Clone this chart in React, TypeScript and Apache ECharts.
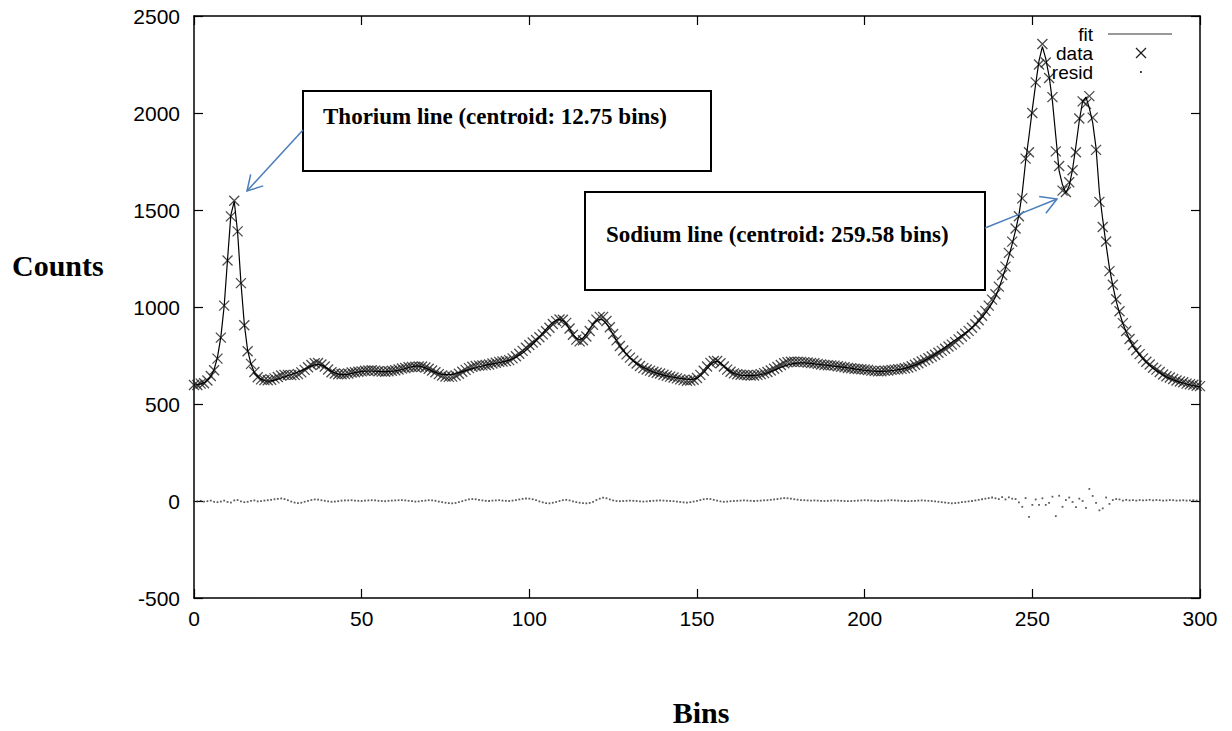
import React, { useEffect, useRef } from "react";
import * as echarts from "echarts";

// Fitted spectrum (counts per bin, bins 0..300)
const fitCounts = [
  598, 600, 604, 610, 622, 642, 678, 740, 845, 1005,
  1245, 1475, 1545, 1385, 1125, 912, 776, 706, 662, 640,
  628, 621, 618, 619, 623, 628, 634, 640, 646, 652,
  658, 665, 672, 680, 688, 696, 702, 704, 700, 692,
  680, 668, 660, 654, 651, 651, 654, 658, 662, 665,
  668, 669, 670, 670, 669, 668, 667, 667, 668, 669,
  671, 674, 678, 683, 688, 692, 695, 695, 692, 686,
  678, 670, 663, 657, 653, 651, 651, 653, 657, 662,
  667, 672, 677, 682, 687, 692, 696, 700, 704, 707,
  710, 713, 717, 721, 726, 733, 741, 751, 763, 777,
  792, 808, 826, 846, 866, 886, 905, 921, 932, 936,
  930, 912, 886, 859, 838, 832, 840, 860, 886, 912,
  930, 937, 932, 914, 888, 858, 828, 800, 776, 755,
  737, 722, 709, 698, 688, 680, 672, 665, 659, 654,
  649, 645, 641, 638, 635, 632, 630, 628, 627, 628,
  633, 645, 662, 682, 702, 716, 720, 712, 697, 680,
  667, 658, 652, 649, 647, 646, 646, 647, 649, 652,
  656, 661, 667, 674, 681, 688, 695, 701, 706, 709,
  711, 712, 712, 711, 709, 707, 705, 703, 701, 699,
  697, 695, 693, 691, 689, 687, 684, 681, 678, 676,
  674, 672, 670, 669, 668, 668, 669, 670, 672, 674,
  677, 680, 684, 689, 695, 701, 708, 716, 725, 735,
  745, 756, 768, 780, 793, 806, 818, 830, 842, 854,
  866, 879, 893, 908, 926, 946, 968, 992, 1020, 1052,
  1095, 1145, 1200, 1260, 1325, 1395, 1475, 1590, 1750, 1880,
  2020, 2150, 2270, 2342, 2280, 2190, 2060, 1880, 1700, 1630,
  1588, 1625, 1710, 1830, 1960, 2060, 2082, 2025, 1950, 1820,
  1590, 1450, 1320, 1200, 1110, 1030, 970, 915, 870, 832,
  800, 775, 752, 732, 714, 698, 684, 672, 661, 650,
  640, 632, 625, 619, 613, 608, 603, 599, 595, 592,
  589,
];

// Residuals (data - fit) per bin
const residuals = [
  0, -2, 1, -3, -1, 2, -4, -6, -3, 2,
  -5, -8, 3, 5, -2, -6, -4, 1, 3, -2,
  -1, 2, 4, 6, 9, 11, 13, 10, 4, -3,
  -8, -11, -9, -4, 1, 5, 8, 7, 4, 1,
  -2, -4, -3, -1, 2, 3, 3, 4, 2, 1,
  0, 2, 3, 4, 3, 1, 0, -1, 1, 2,
  3, 4, 5, 3, 1, -1, -3, -2, 1, 2,
  4, 3, 1, -3, -6, -9, -11, -12, -10, -6,
  -1, 4, 8, 10, 9, 6, 3, 1, 0, 2,
  3, 4, 2, 1, 0, 2, 5, 8, 11, 13,
  12, 9, 4, -2, -7, -11, -12, -9, -5, 0,
  4, 6, 3, -2, -6, -9, -11, -12, -10, -4,
  5, 12, 17, 14, 8, 3, 0, -1, 0, 1,
  2, 1, 0, -2, -3, -2, 0, 1, 2, 3,
  2, 1, 0, -1, -3, -5, -7, -8, -6, -3,
  1, 5, 9, 11, 10, 6, 2, -2, -4, -3,
  -1, 0, 1, 2, 3, 2, 1, 0, 1, 2,
  3, 4, 6, 8, 10, 13, 15, 14, 12, 9,
  7, 5, 4, 3, 2, 3, 2, 1, 0, 1,
  2, 3, 2, 1, 0, -1, 0, 1, 2, 3,
  4, 3, 2, 1, 0, 1, 2, 3, 4, 3,
  2, 1, 0, -1, 0, 1, 2, 3, 2, 1,
  0, -2, -4, -6, -8, -10, -12, -11, -9, -6,
  -4, -2, 0, 3, 6, 9, 12, 15, 18, 14,
  10, 20, 8, 19, 12, 10, -7, -30, 15, -82,
  -20, 8, -20, 14, -20, -10, 22, -78, 27, -30,
  5, 18, -5, -32, 12, 0, -35, 62, 26, -10,
  -48, -38, 18, -15, 5, 10, 8, 2, 6, 3,
  4, 2, 5, 3, 4, 6, 3, 5, 4, 2,
  3, 5, 4, 2, 3, 4, 2, 3, 4, 2,
  3,
];

const xMin = 0;
const xMax = 300;
const xStep = 50;
const yMin = -500;
const yMax = 2500;
const yStep = 500;

const legendLabels = ["fit", "data", "resid"];
const yTitle = "Counts";
const xTitle = "Bins";
const thoriumLabel = "Thorium line (centroid: 12.75 bins)";
const sodiumLabel = "Sodium line (centroid: 259.58 bins)";

const TICK_FONT = "Liberation Sans";
const SERIF = "Liberation Serif";
const ARROW_BLUE = "#4a7ebb";

function arrow(x1: number, y1: number, x2: number, y2: number, head: number) {
  const dx = x1 - x2;
  const dy = y1 - y2;
  const L = Math.sqrt(dx * dx + dy * dy);
  const ux = dx / L;
  const uy = dy / L;
  const c = Math.cos(Math.PI / 6);
  const s = Math.sin(Math.PI / 6);
  const w1 = [x2 + head * (ux * c - uy * s), y2 + head * (ux * s + uy * c)];
  const w2 = [x2 + head * (ux * c + uy * s), y2 + head * (-ux * s + uy * c)];
  return [
    {
      type: "line",
      z: 100,
      shape: { x1, y1, x2, y2 },
      style: { stroke: ARROW_BLUE, lineWidth: 1.5 },
    },
    {
      type: "polyline",
      z: 100,
      shape: { points: [w1, [x2, y2], w2] },
      style: { stroke: ARROW_BLUE, lineWidth: 1.5, fill: null },
    },
  ];
}

export default function App() {
  const ref = useRef<HTMLDivElement>(null);

  useEffect(() => {
    document.body.style.margin = "0";
    if (!ref.current) return;
    const chart = echarts.init(ref.current, null, { renderer: "svg" });

    const bins = fitCounts.map((_, i) => i);
    const fitData = bins.map((b, i) => [b, fitCounts[i]]);
    const measured = bins.map((b, i) => [b, fitCounts[i] + residuals[i]]);
    const residData = bins.map((b, i) => [b, residuals[i]]);

    const axisLine = { show: true, onZero: false, lineStyle: { color: "#000", width: 1.5 } };
    const axisTick = { show: true, inside: true, length: 9, lineStyle: { color: "#000", width: 1.2 } };
    const label = {
      color: "#000",
      fontFamily: TICK_FONT,
      fontSize: 21,
      formatter: (v: number) => String(v),
    };

    const legendX = 1093;
    const legendY = [34, 53, 72];

    chart.setOption({
      animation: false,
      backgroundColor: "#fff",
      grid: { left: 194, right: 32, top: 16, bottom: 133 },
      xAxis: [
        {
          type: "value",
          position: "bottom",
          min: xMin,
          max: xMax,
          interval: xStep,
          axisLine,
          axisTick,
          axisLabel: { ...label, margin: 10 },
          splitLine: { show: false },
        },
        {
          type: "value",
          position: "top",
          min: xMin,
          max: xMax,
          interval: xStep,
          axisLine,
          axisTick,
          axisLabel: { show: false },
          splitLine: { show: false },
        },
      ],
      yAxis: [
        {
          type: "value",
          position: "left",
          min: yMin,
          max: yMax,
          interval: yStep,
          axisLine,
          axisTick,
          axisLabel: { ...label, margin: 14 },
          splitLine: { show: false },
        },
        {
          type: "value",
          position: "right",
          min: yMin,
          max: yMax,
          interval: yStep,
          axisLine,
          axisTick,
          axisLabel: { show: false },
          splitLine: { show: false },
        },
      ],
      series: [
        {
          name: "data",
          type: "scatter",
          xAxisIndex: 0,
          yAxisIndex: 0,
          data: measured,
          symbol: "path://M0,0L10,10M10,0L0,10",
          symbolSize: 10,
          clip: false,
          itemStyle: { color: "rgba(0,0,0,0)", borderColor: "#1e1e1e", borderWidth: 1.3 },
          z: 2,
        },
        {
          name: "fit",
          type: "line",
          xAxisIndex: 0,
          yAxisIndex: 0,
          data: fitData,
          showSymbol: false,
          symbol: "none",
          lineStyle: { color: "#000", width: 1.2 },
          z: 3,
        },
        {
          name: "resid",
          type: "scatter",
          xAxisIndex: 0,
          yAxisIndex: 0,
          data: residData,
          symbol: "rect",
          symbolSize: 1.8,
          itemStyle: { color: "#333" },
          z: 2,
        },
      ],
      graphic: [
        {
          type: "text",
          x: 12,
          y: 265,
          style: {
            text: yTitle,
            fontFamily: SERIF,
            fontWeight: "bold",
            fontSize: 30,
            fill: "#000",
            verticalAlign: "middle",
            align: "left",
          },
        },
        {
          type: "text",
          x: 701,
          y: 712,
          style: {
            text: xTitle,
            fontFamily: SERIF,
            fontWeight: "bold",
            fontSize: 30,
            fill: "#000",
            verticalAlign: "middle",
            align: "center",
          },
        },
        ...legendLabels.map((t, i) => ({
          type: "text",
          z: 110,
          x: legendX,
          y: legendY[i],
          style: {
            text: t,
            fontFamily: TICK_FONT,
            fontSize: 19,
            fill: "#000",
            align: "right",
            verticalAlign: "middle",
          },
        })),
        {
          type: "line",
          z: 110,
          shape: { x1: 1108, y1: legendY[0], x2: 1172, y2: legendY[0] },
          style: { stroke: "#333", lineWidth: 1.2 },
        },
        {
          type: "line",
          z: 110,
          shape: { x1: 1136, y1: legendY[1] - 5, x2: 1146, y2: legendY[1] + 5 },
          style: { stroke: "#1e1e1e", lineWidth: 1.2 },
        },
        {
          type: "line",
          z: 110,
          shape: { x1: 1146, y1: legendY[1] - 5, x2: 1136, y2: legendY[1] + 5 },
          style: { stroke: "#1e1e1e", lineWidth: 1.2 },
        },
        {
          type: "rect",
          z: 110,
          shape: { x: 1140, y: legendY[2] - 0.9, width: 1.8, height: 1.8 },
          style: { fill: "#333" },
        },
        {
          type: "rect",
          z: 100,
          shape: { x: 303, y: 91, width: 408, height: 80 },
          style: { fill: "#fff", stroke: "#000", lineWidth: 2 },
        },
        {
          type: "text",
          z: 101,
          x: 323,
          y: 116,
          style: {
            text: thoriumLabel,
            fontFamily: SERIF,
            fontWeight: "bold",
            fontSize: 23,
            fill: "#000",
            verticalAlign: "middle",
            align: "left",
          },
        },
        {
          type: "rect",
          z: 100,
          shape: { x: 585, y: 192, width: 400, height: 98 },
          style: { fill: "#fff", stroke: "#000", lineWidth: 2 },
        },
        {
          type: "text",
          z: 101,
          x: 606,
          y: 234,
          style: {
            text: sodiumLabel,
            fontFamily: SERIF,
            fontWeight: "bold",
            fontSize: 23,
            fill: "#000",
            verticalAlign: "middle",
            align: "left",
          },
        },
        ...arrow(303, 130, 247, 191, 17),
        ...arrow(985, 228, 1057, 199, 18),
      ],
    });

    return () => chart.dispose();
  }, []);

  return <div ref={ref} style={{ width: 1232, height: 731 }} />;
}
